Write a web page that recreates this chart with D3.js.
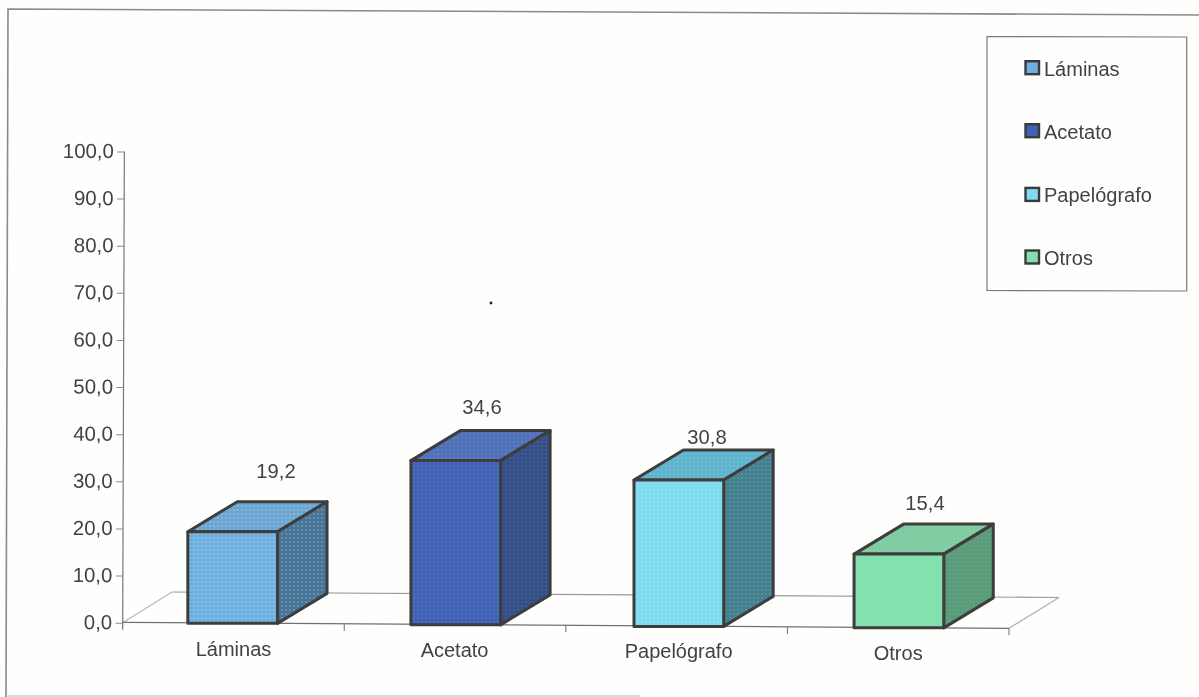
<!DOCTYPE html>
<html><head><meta charset="utf-8">
<script src="https://cdn.jsdelivr.net/npm/d3@7/dist/d3.min.js"></script>
<style>html,body{margin:0;padding:0;background:#fefefd}svg{display:block;filter:blur(0.45px)}text{font-family:"Liberation Sans",Arial,sans-serif;fill:#424242}</style>
</head><body><svg id="c" width="1199" height="697"></svg>
<script>
const categories = ["Láminas","Acetato","Papelógrafo","Otros"];
const values = [19.2,34.6,30.8,15.4];
const valueLabels = ["19,2","34,6","30,8","15,4"];
const ticks = [0,10,20,30,40,50,60,70,80,90,100];
const frontColors = ["#6db0e0","#3f62b6","#7edcf0","#82e0ae"];
const topColors = ["#6ca6d2","#5071ba","#5fb4cd","#80cca2"];
const sideColors = ["#467598","#354e88","#44818f","#5a9c7a"];
const dotOpacity = [0.24,0.1,0.14,0.06];

const svg = d3.select("#c");
const defs = svg.append("defs");
dotOpacity.forEach((o,i)=>{
  const pat = defs.append("pattern").attr("id","ht"+i).attr("patternUnits","userSpaceOnUse").attr("width",4).attr("height",4);
  pat.append("circle").attr("cx",2).attr("cy",2).attr("r",1).attr("fill","#fff").attr("fill-opacity",o);
});

svg.append("rect").attr("width",1199).attr("height",697).attr("fill","#fefefd");
// scanned page frame: no right edge in the picture
svg.append("path").attr("d","M1199,15L8,9L6,697").attr("fill","none").attr("stroke","#8a8a8a").attr("stroke-width",1.6);
svg.append("path").attr("d","M6,696H640").attr("fill","none").attr("stroke","#b5b5b5").attr("stroke-width",1.2);

const x0 = 122.7, y0 = 622.7;
const y = d3.scaleLinear().domain([0,100]).range([y0,151.5]);
const x = d3.scaleBand().domain(categories).range([x0,1009]);
const slope = 0.0068;
const base = px => y0 - 0.4 + (px-x0)*slope;
const dx = 49.5, dy = 30;

// floor
const floorBack = [[172,592],[1059,597.5]];
svg.append("path").attr("d",`M${x0},${y0}L${floorBack[0]}`).attr("fill","none").attr("stroke","#b8b8b8").attr("stroke-width",1.2);
svg.append("path").attr("d",`M${floorBack[0]}L${floorBack[1]}`).attr("fill","none").attr("stroke","#999").attr("stroke-width",1.2);
svg.append("path").attr("d",`M${floorBack[1]}L1009,${base(1009)}`).attr("fill","none").attr("stroke","#b0b0b0").attr("stroke-width",1.2);
svg.append("path").attr("d",`M${x0},${base(x0)}L1009,${base(1009)}`).attr("fill","none").attr("stroke","#707070").attr("stroke-width",1.2);

// axis
const ax = d3.axisLeft(y).tickValues(ticks).tickSize(7).tickPadding(3.5).tickFormat(d=>d3.format(".1f")(d).replace(".",","));
const g = svg.append("g").attr("transform",`translate(${x0},0) rotate(0.2,0,${y0})`).call(ax);
g.select(".domain").attr("stroke","#777").attr("stroke-width",1.2).attr("d",`M0,${y(100)}V${y0+7}`);
g.selectAll(".tick line").attr("stroke","#888");
g.selectAll("text").attr("font-size",20.4).attr("dy","0.3em").style("fill","#424242");

// category ticks
svg.selectAll(".ct").data(d3.range(1,5)).join("line")
  .attr("x1",i=>x0+i*x.step()).attr("x2",i=>x0+i*x.step())
  .attr("y1",i=>base(x0+i*x.step())).attr("y2",i=>base(x0+i*x.step())+7)
  .attr("stroke","#777").attr("stroke-width",1.1);

const barW = 89.7;
const barNudge = [-1.5,0,1.5,0];
const bars = svg.selectAll(".bar").data(categories).join("g");
bars.each(function(c,i){
  const cx = x(c)+x.bandwidth()/2+barNudge[i]+0.7;
  const l = cx-barW/2, r = l+barW;
  const b = base(l)+0.6, h = y0 - y(values[i]) + 1.2;
  const t = b-h;
  const sel = d3.select(this);
  const add=(d,f)=>{
    sel.append("path").attr("d",d).attr("fill",f);
    sel.append("path").attr("d",d).attr("fill",`url(#ht${i})`)
      .attr("stroke","#3d3d3d").attr("stroke-width",3).attr("stroke-linejoin","round");
  };
  add(`M${l},${t}L${l+dx},${t-dy}H${r+dx}L${r},${t}Z`,topColors[i]);
  add(`M${r},${t}L${r+dx},${t-dy}V${b-dy}L${r},${b}Z`,sideColors[i]);
  add(`M${l},${t}H${r}V${b}H${l}Z`,frontColors[i]);
});

// category labels
const labelDx=[0,-0.5,2,0], labelY=[656,657,658,660];
svg.selectAll(".cl").data(categories).join("text")
  .attr("x",(c,i)=>x(c)+x.bandwidth()/2+labelDx[i]).attr("y",(c,i)=>labelY[i])
  .attr("text-anchor","middle").attr("font-size",20).text(c=>c);

// value labels
const vx=[276,482,707,925], vy=[478,414,444,510];
svg.selectAll(".vl").data(valueLabels).join("text")
  .attr("x",(d,i)=>vx[i]).attr("y",(d,i)=>vy[i]).attr("text-anchor","middle").attr("font-size",20.2).text(d=>d);

// legend
svg.append("path").attr("d","M987,36.5L1186.7,37V291L987,290.5Z").attr("fill","#fefefd").attr("stroke","#7a7a7a").attr("stroke-width",1.2);
const lb=[75.7,138.7,202.4,265];
categories.forEach((c,i)=>{
  svg.append("rect").attr("x",1025.5).attr("y",lb[i]-14.5).attr("width",13.5).attr("height",13)
    .attr("fill",frontColors[i]).attr("stroke","#3a3a3a").attr("stroke-width",2.4);
  svg.append("text").attr("x",1044).attr("y",lb[i]).attr("font-size",20).text(c);
});
// speck in the scan
svg.append("circle").attr("cx",491).attr("cy",303).attr("r",1.4).attr("fill","#222");
</script></body></html>
